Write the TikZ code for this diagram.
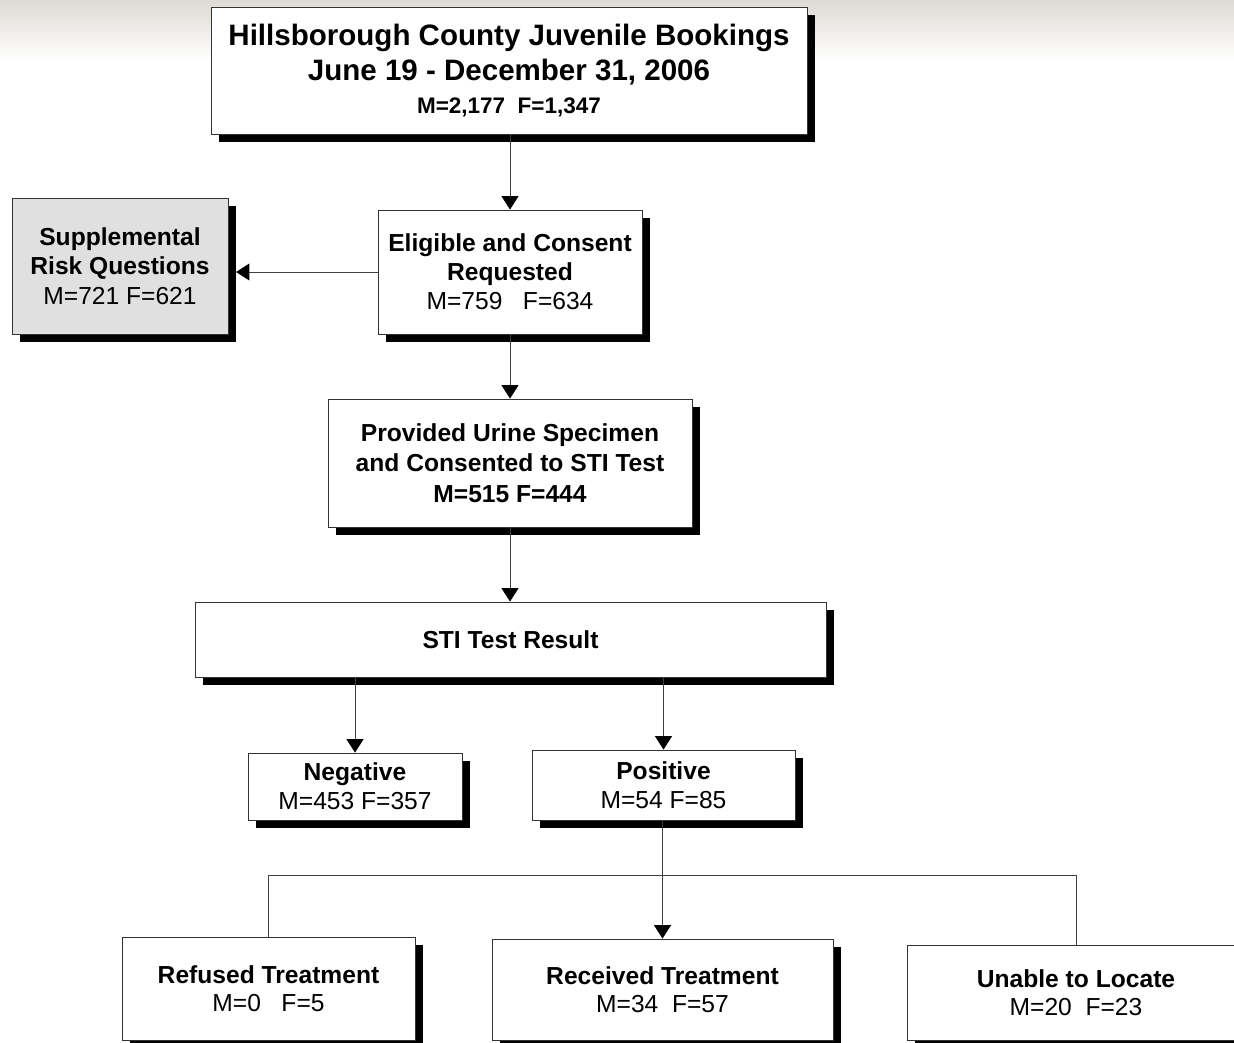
\documentclass[tikz,border=0pt]{standalone}
\usepackage{fontspec}
\setmainfont{Liberation Sans}
\usepackage{xcolor}
\usetikzlibrary{shadows,arrows.meta}
\definecolor{bgtop}{rgb}{0.87,0.855,0.83}
\definecolor{boxgray}{rgb}{0.88,0.88,0.88}

\begin{document}
\begin{tikzpicture}[x=0.025cm, y=-0.025cm,
  box/.style={draw=black!80, line width=0.6pt, fill=white, align=center, inner sep=0pt,
    drop shadow={shadow xshift=0.19cm, shadow yshift=-0.19cm, fill=black, opacity=1},
    font=\fontsize{17.5}{20.5}\selectfont},
  link/.style={draw=black!75, line width=0.7pt},
  arr/.style={link, -{Triangle[length=9.5pt,width=12pt,color=black,fill=black]}}]
  \useasboundingbox (0,0) rectangle (1234,1042);
  \shade[top color=bgtop, bottom color=white] (0,0) rectangle (1234,60);
  \node[box, minimum width=14.9cm, minimum height=3.175cm, font=\fontsize{21}{25.5}\selectfont\bfseries] (bookings) at (509,70.5)
    {Hillsborough County Juvenile Bookings\\June 19 - December 31, 2006\\[-2pt]{\fontsize{16}{16}\selectfont M=2,177~~F=1,347}};
  \node[box, minimum width=6.6cm, minimum height=3.1cm] (eligible) at (510,272)
    {\textbf{Eligible and Consent}\\\textbf{Requested}\\M=759~~~F=634};
  \node[box, fill=boxgray, minimum width=5.4cm, minimum height=3.4cm, font=\fontsize{17.5}{21}\selectfont] (supp) at (120,266)
    {\textbf{Supplemental}\\\textbf{Risk Questions}\\M=721 F=621};
  \node[box, minimum width=9.1cm, minimum height=3.2cm, font=\fontsize{17.5}{21.5}\selectfont\bfseries] (urine) at (510,463)
    {Provided Urine Specimen\\and Consented to STI Test\\M=515 F=444};
  \node[box, minimum width=15.775cm, minimum height=1.875cm, font=\fontsize{17.5}{21}\selectfont\bfseries] (result) at (510.5,639.5)
    {STI Test Result};
  \node[box, minimum width=5.35cm, minimum height=1.675cm] (negative) at (355,786.5)
    {\textbf{Negative}\\M=453 F=357};
  \node[box, minimum width=6.575cm, minimum height=1.75cm] (positive) at (663.5,785)
    {\textbf{Positive}\\M=54 F=85};
  \node[box, minimum width=7.325cm, minimum height=2.575cm, font=\fontsize{17.5}{19.5}\selectfont] (refused) at (268.5,988.5)
    {\textbf{Refused Treatment}\\M=0~~~F=5};
  \node[box, minimum width=8.525cm, minimum height=2.525cm, font=\fontsize{17.5}{19.5}\selectfont] (received) at (662.5,989.5)
    {\textbf{Received Treatment}\\M=34~~F=57};
  \node[box, minimum width=8.45cm, minimum height=2.375cm, font=\fontsize{17.5}{19.5}\selectfont] (unable) at (1076,992.5)
    {\textbf{Unable to Locate}\\M=20~~F=23};
  \coordinate (split) at (662.5,875);
  \draw[arr] (bookings.south -| eligible.north) -- (eligible.north);
  \draw[arr, shorten >=0.19cm] (eligible.west) -- (eligible.west -| supp.east);
  \draw[arr] (eligible.south) -- (urine.north);
  \draw[arr] (urine.south) -- (result.north -| urine.south);
  \draw[arr] (result.south -| negative.north) -- (negative.north);
  \draw[arr] (result.south -| positive.north) -- (positive.north);
  \draw[arr] (positive.south -| received.north) -- (received.north);
  \draw[link] (refused.north) |- (split) -| (unable.north);
\end{tikzpicture}
\end{document}
